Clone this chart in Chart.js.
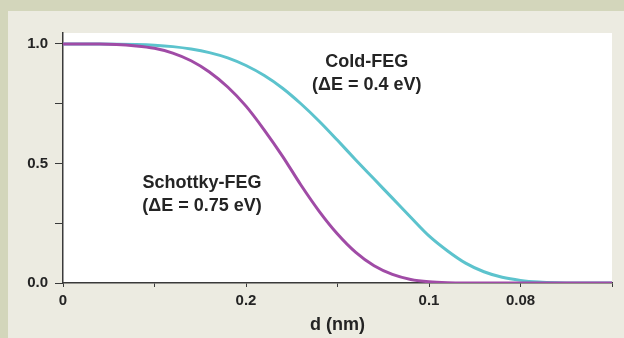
<!DOCTYPE html>
<html>
<head>
<meta charset="utf-8">
<script src="https://cdn.jsdelivr.net/npm/chart.js@4.4.1/dist/chart.umd.min.js"></script>
<style>
  html, body { margin: 0; padding: 0; background: #ecebe1; }
  #wrap { position: relative; width: 624px; height: 338px; }
</style>
</head>
<body>
<div id="wrap"><canvas id="chart" width="624" height="338"></canvas></div>
<script>
// Spatial frequency (1/nm); the axis is labelled with d = 1/k in nm
const freq = [0, 1, 2, 2.5, 3, 3.5, 4, 4.5, 5, 5.5, 6, 6.5, 7, 7.5, 8, 8.5, 9, 9.5, 10, 10.5, 11, 11.5, 12, 12.5, 13, 13.5, 14, 15];
const coldFeg = [1, 1, 0.998, 0.995, 0.989, 0.979, 0.964, 0.942, 0.91, 0.868, 0.815, 0.75, 0.677, 0.597, 0.515, 0.435, 0.355, 0.275, 0.197, 0.135, 0.083, 0.047, 0.024, 0.011, 0.004, 0.001, 0, 0];
const schottkyFeg = [1, 1, 0.992, 0.982, 0.962, 0.93, 0.883, 0.82, 0.74, 0.64, 0.53, 0.41, 0.3, 0.205, 0.128, 0.072, 0.036, 0.015, 0.005, 0.001, 0, 0, 0, 0, 0, 0, 0, 0];

const xTickValues = [0, 2.5, 5, 7.5, 10, 12.5, 15];
const xTickLabels = ['0', '', '0.2', '', '0.1', '0.08', ''];
const yTickValues = [0, 0.25, 0.5, 0.75, 1.0];
const yTickLabels = ['0.0', '', '0.5', '', '1.0'];

// curve labels, anchored in data units
const curveLabels = [
    { x: 8.3, y: 0.925, lines: ['Cold-FEG', '(\u0394E = 0.4 eV)'] },
    { x: 3.8, y: 0.418, lines: ['Schottky-FEG', '(\u0394E = 0.75 eV)'] }
];

const FONT = 'Arial, "Liberation Sans", Helvetica, sans-serif';
const INK = '#242424';

const backdropPlugin = {
    id: 'backdrop',
    beforeDraw(chart) {
        const ctx = chart.ctx;
        const a = chart.chartArea;
        ctx.save();
        ctx.fillStyle = '#ecebe1';
        ctx.fillRect(0, 0, chart.width, chart.height);
        ctx.fillStyle = '#d3d6bb';
        ctx.fillRect(0, 0, chart.width, 11);
        ctx.fillRect(0, 0, 8, chart.height);
        ctx.fillStyle = '#ffffff';
        ctx.fillRect(a.left, a.top, a.right - a.left, a.bottom - a.top);
        ctx.restore();
    }
};

const curveLabelPlugin = {
    id: 'curveLabels',
    afterDatasetsDraw(chart) {
        const ctx = chart.ctx;
        const xs = chart.scales.x;
        const ys = chart.scales.y;
        ctx.save();
        ctx.font = `bold 18px ${FONT}`;
        ctx.fillStyle = INK;
        ctx.textAlign = 'center';
        ctx.textBaseline = 'middle';
        curveLabels.forEach(lbl => {
            const px = xs.getPixelForValue(lbl.x);
            const py = ys.getPixelForValue(lbl.y);
            lbl.lines.forEach((line, i) => ctx.fillText(line, px, py + i * 23));
        });
        ctx.restore();
    }
};

new Chart(document.getElementById('chart'), {
    type: 'line',
    plugins: [backdropPlugin, curveLabelPlugin],
    data: {
        datasets: [
            {
                label: 'Schottky-FEG',
                data: freq.map((k, i) => ({ x: k, y: schottkyFeg[i] })),
                borderColor: '#a04ba6',
                borderWidth: 3,
                pointRadius: 0,
                cubicInterpolationMode: 'monotone',
                order: 0
            },
            {
                label: 'Cold-FEG',
                data: freq.map((k, i) => ({ x: k, y: coldFeg[i] })),
                borderColor: '#5cc3cd',
                borderWidth: 3,
                pointRadius: 0,
                cubicInterpolationMode: 'monotone',
                order: 1
            }
        ]
    },
    options: {
        responsive: false,
        animation: false,
        events: [],
        layout: { padding: { top: 33, right: 12, left: 0, bottom: 0 } },
        plugins: {
            legend: { display: false },
            tooltip: { enabled: false }
        },
        scales: {
            x: {
                type: 'linear',
                min: 0,
                max: 15,
                afterBuildTicks: scale => {
                    scale.ticks = xTickValues.map(v => ({ value: v }));
                },
                afterFit: scale => { scale.height = 55; },
                border: { display: true, color: '#3a3a3a', width: 1.5 },
                grid: { drawOnChartArea: false, drawTicks: true, tickLength: 4, color: '#3a3a3a' },
                ticks: {
                    autoSkip: false,
                    maxRotation: 0,
                    padding: 5,
                    color: INK,
                    font: { family: FONT, size: 15, weight: 'bold' },
                    callback: (value, index) => xTickLabels[index]
                },
                title: {
                    display: true,
                    text: 'd (nm)',
                    color: INK,
                    font: { family: FONT, size: 18, weight: 'bold' },
                    padding: { top: 0, bottom: 2 }
                }
            },
            y: {
                min: 0,
                max: 1.046,
                afterBuildTicks: scale => {
                    scale.ticks = yTickValues.map(v => ({ value: v }));
                },
                afterFit: scale => { scale.width = 63; },
                border: { display: true, color: '#3a3a3a', width: 1.5 },
                grid: { drawOnChartArea: false, drawTicks: true, tickLength: 8, color: '#3a3a3a' },
                ticks: {
                    padding: 7,
                    color: INK,
                    font: { family: FONT, size: 15, weight: 'bold' },
                    callback: (value, index) => yTickLabels[index]
                }
            }
        }
    }
});
</script>
</body>
</html>
